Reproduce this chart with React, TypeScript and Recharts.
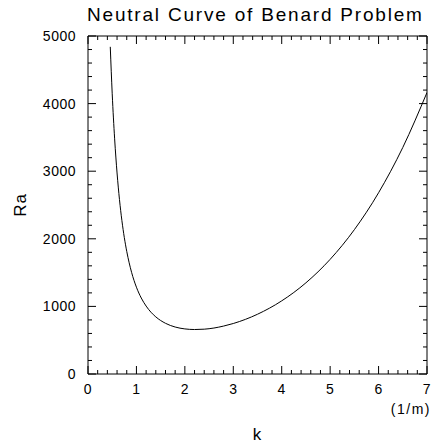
import React from 'react';
import { LineChart, Line, XAxis, YAxis } from 'recharts';

// wavenumber k (1/m) and Rayleigh number Ra along the neutral curve
const kValues = [0.46, 0.5, 0.55, 0.6, 0.65, 0.7, 0.75, 0.8, 0.9, 1.0, 1.1, 1.2, 1.3, 1.4, 1.6, 1.8, 2.0, 2.2, 2.4, 2.6, 2.8, 3.0, 3.5, 4.0, 4.5, 5.0, 5.5, 6.0, 6.5, 7.0];
const raValues = [4840, 4145, 3479, 2974, 2580, 2269, 2018, 1814, 1504, 1284, 1124, 1005, 914, 845, 750, 695, 667, 658, 663, 680, 709, 747, 884, 1082, 1349, 1696, 2135, 2681, 3351, 4164];

const xTicks = [0, 0.2, 0.4, 0.6, 0.8, 1, 1.2, 1.4, 1.6, 1.8, 2, 2.2, 2.4, 2.6, 2.8, 3, 3.2, 3.4, 3.6, 3.8, 4, 4.2, 4.4, 4.6, 4.8, 5, 5.2, 5.4, 5.6, 5.8, 6, 6.2, 6.4, 6.6, 6.8, 7];
const yTicks = [0, 200, 400, 600, 800, 1000, 1200, 1400, 1600, 1800, 2000, 2200, 2400, 2600, 2800, 3000, 3200, 3400, 3600, 3800, 4000, 4200, 4400, 4600, 4800, 5000];
const xTickLabels = ['0', '1', '2', '3', '4', '5', '6', '7'];
const yTickLabels = ['0', '1000', '2000', '3000', '4000', '5000'];

const title = 'Neutral Curve of Benard Problem';
const xTitle = 'k';
const xUnit = '(1/m)';
const yTitle = 'Ra';

const data = kValues.map((k, i) => ({ k, ra: raValues[i] }));

const FONT = '"Liberation Sans", Arial, sans-serif';
const MAJOR = 8;
const MINOR = 4;

const isMajorX = (v: number) => Math.abs(v - Math.round(v)) < 1e-6;
const isMajorY = (v: number) => Math.abs(v / 1000 - Math.round(v / 1000)) < 1e-6;

const BottomTick = (props: any) => {
  const { x, y, payload } = props;
  const v = payload.value;
  const major = isMajorX(v);
  return (
    <g>
      <line x1={x} y1={y} x2={x} y2={y - (major ? MAJOR : MINOR)} stroke="#000" strokeWidth={1} />
      {major && (
        <text x={x} y={y + 20} textAnchor="middle" fontSize={14} fontFamily={FONT} fill="#000" letterSpacing={0.5}>
          {xTickLabels[Math.round(v)]}
        </text>
      )}
    </g>
  );
};

const TopTick = (props: any) => {
  const { x, y, payload } = props;
  const major = isMajorX(payload.value);
  return <line x1={x} y1={y} x2={x} y2={y + (major ? MAJOR : MINOR)} stroke="#000" strokeWidth={1} />;
};

const LeftTick = (props: any) => {
  const { x, y, payload } = props;
  const v = payload.value;
  const major = isMajorY(v);
  return (
    <g>
      <line x1={x} y1={y} x2={x + (major ? MAJOR : MINOR)} y2={y} stroke="#000" strokeWidth={1} />
      {major && (
        <text x={x - 12} y={y + 5} textAnchor="end" fontSize={14} fontFamily={FONT} fill="#000" letterSpacing={0.5}>
          {yTickLabels[Math.round(v / 1000)]}
        </text>
      )}
    </g>
  );
};

const RightTick = (props: any) => {
  const { x, y, payload } = props;
  const major = isMajorY(payload.value);
  return <line x1={x} y1={y} x2={x - (major ? MAJOR : MINOR)} y2={y} stroke="#000" strokeWidth={1} />;
};

export default function App() {
  return (
    <div style={{ position: 'absolute', left: 0, top: 0, width: 433, height: 444, background: '#fff' }}>
      <LineChart width={433} height={444} data={data} margin={{ top: 35, right: 5, left: 87, bottom: 69 }}>
        <XAxis
          xAxisId="bottom"
          dataKey="k"
          type="number"
          domain={[0, 7]}
          ticks={xTicks}
          interval={0}
          height={1}
          tickSize={0}
          tickMargin={0}
          tickLine={false}
          axisLine={{ stroke: '#000' }}
          tick={<BottomTick />}
          orientation="bottom"
          allowDataOverflow
        />
        <XAxis
          xAxisId="top"
          dataKey="k"
          type="number"
          domain={[0, 7]}
          ticks={xTicks}
          interval={0}
          height={1}
          tickSize={0}
          tickMargin={0}
          tickLine={false}
          axisLine={{ stroke: '#000' }}
          tick={<TopTick />}
          orientation="top"
          allowDataOverflow
        />
        <YAxis
          yAxisId="left"
          type="number"
          domain={[0, 5000]}
          ticks={yTicks}
          interval={0}
          width={1}
          tickSize={0}
          tickMargin={0}
          tickLine={false}
          axisLine={{ stroke: '#000' }}
          tick={<LeftTick />}
          orientation="left"
          allowDataOverflow
        />
        <YAxis
          yAxisId="right"
          type="number"
          domain={[0, 5000]}
          ticks={yTicks}
          interval={0}
          width={1}
          tickSize={0}
          tickMargin={0}
          tickLine={false}
          axisLine={{ stroke: '#000' }}
          tick={<RightTick />}
          orientation="right"
          allowDataOverflow
        />
        <Line
          xAxisId="bottom"
          yAxisId="left"
          dataKey="ra"
          type="monotone"
          stroke="#000"
          strokeWidth={1}
          dot={false}
          isAnimationActive={false}
        />
        <Line
          xAxisId="top"
          yAxisId="right"
          dataKey="ra"
          type="monotone"
          stroke="none"
          dot={false}
          legendType="none"
          isAnimationActive={false}
        />
      </LineChart>
      <svg width={433} height={444} style={{ position: 'absolute', left: 0, top: 0, pointerEvents: 'none' }}>
        <text x={87} y={21} fontSize={19} fontFamily={FONT} fill="#000" letterSpacing={1.8}>{title}</text>
        <text x={0} y={0} transform="translate(26,205) rotate(-90)" textAnchor="middle" fontSize={17} fontFamily={FONT} fill="#000" letterSpacing={1}>{yTitle}</text>
        <text x={257} y={440} textAnchor="middle" fontSize={17} fontFamily={FONT} fill="#000">{xTitle}</text>
        <text x={431} y={414} textAnchor="end" fontSize={14} fontFamily={FONT} fill="#000" letterSpacing={1.5}>{xUnit}</text>
      </svg>
    </div>
  );
}
